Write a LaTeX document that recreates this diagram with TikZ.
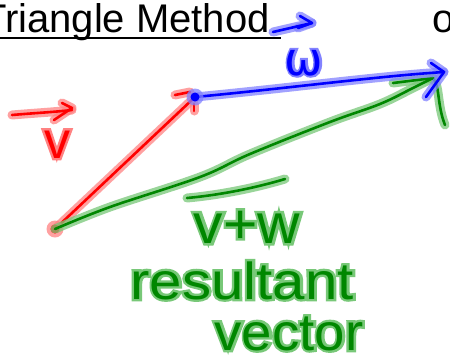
\documentclass[tikz,border=0pt]{standalone}
\usepackage{fontspec}
\setmainfont{Liberation Sans}
\newfontfamily\halofont[FakeBold=9]{Liberation Sans}
\newfontfamily\grk{DejaVu Sans}
\newfontfamily\grkhalo[FakeBold=9]{DejaVu Sans}
\definecolor{pr}{RGB}{255,0,0}
\definecolor{prh}{RGB}{255,130,130}
\definecolor{pb}{RGB}{0,0,255}
\definecolor{pbh}{RGB}{130,130,255}
\definecolor{pg}{RGB}{0,135,0}
\definecolor{pgh}{RGB}{120,200,120}
% halo text: #1 halo colour, #2 halo font, #3 core font, #4 text
\newcommand\glowtxt[4]{\rlap{\color{#1}#2#4}#3#4}
\begin{document}
\begin{tikzpicture}[x=1pt,y=-1pt,
  glow/.style={line width=9pt,line cap=round,line join=round,opacity=0.75},
  core/.style={line width=2.6pt,line cap=round,line join=round},
  lbl/.style={inner sep=0pt,anchor=base}]
\useasboundingbox (0,0) rectangle (450,354);
\clip (0,0) rectangle (450,354);
\fill[white] (0,0) rectangle (450,354);

% title
\node[inner sep=0pt,anchor=base west,font=\fontsize{40}{41}\selectfont] (title) at (-18,32) {Triangle Method};
\draw[line width=1.6pt] (0,38) -- (281,38);
\node[inner sep=0pt,anchor=base west,font=\fontsize{40}{41}\selectfont] (o) at (432,32) {o};

\coordinate (A) at (55,229);
\coordinate (B) at (195,97);
\coordinate (C) at (444,72);
\coordinate (G) at (433,78);

% strokes: glow then core
\foreach \s/\c in {glow/prh, core/pr}{
  \draw[\s,\c] (A) -- (B);
  \draw[\s,\c] (175,95) -- (190,92);
  \draw[\s,\c] (194,104) -- (194,111);
  \draw[\s,\c] (12,115) .. controls (35,113) and (55,112) .. (72,110);
  \draw[\s,\c] (62,103) -- (72,108) -- (54,120);
}
\fill[prh,opacity=0.75] (A) circle (8.5);
\fill[pr] (A) circle (4.5);

\foreach \s/\c in {glow/pgh, core/pg}{
  \draw[\s,\c] plot[smooth,tension=0.6] coordinates {(A) (110,207) (200,177) (250,154) (330,122) (380,104) (413,88) (G)};
  \draw[\s,\c] (393,83) -- (G);
  \draw[\s,\c] (G) .. controls (440,86) and (437,105) .. (445,125);
  \draw[\s,\c] (187,198) .. controls (220,195) and (255,188) .. (285,179);
}

\foreach \s/\c in {glow/pbh, core/pb}{
  \draw[\s,\c] (B) .. controls (290,88) and (380,76) .. (C);
  \draw[\s,\c] (431,63) -- (C) -- (426,97);
  \draw[\s,\c] (273,32) -- (312,23);
  \draw[\s,\c] (300,16) -- (312,23) -- (298,28);
}
\fill[pbh,opacity=0.75] (B) circle (8.5);
\fill[pb] (B) circle (4.5);

% labels
\node[lbl,pr,font=\fontsize{52}{52}\selectfont] (v) at (57,158) {\glowtxt{prh}{\halofont}{\normalfont}{v}};
\node[lbl,pb,font=\fontsize{46}{46}\selectfont] (w) at (304,75) {\glowtxt{pbh}{\grkhalo}{\grk}{ω}};
\node[lbl,pg,font=\fontsize{56}{56}\selectfont,xscale=1.05] (vw) at (247,243) {\glowtxt{pgh}{\halofont}{\normalfont}{v+w}};
\node[lbl,pg,font=\fontsize{52}{52}\selectfont,xscale=1.12] (res) at (242,299) {\glowtxt{pgh}{\halofont}{\normalfont}{resultant}};
\node[lbl,pg,font=\fontsize{52}{52}\selectfont,xscale=1.05] (vec) at (289,350) {\glowtxt{pgh}{\halofont}{\normalfont}{vector}};
\end{tikzpicture}
\end{document}
